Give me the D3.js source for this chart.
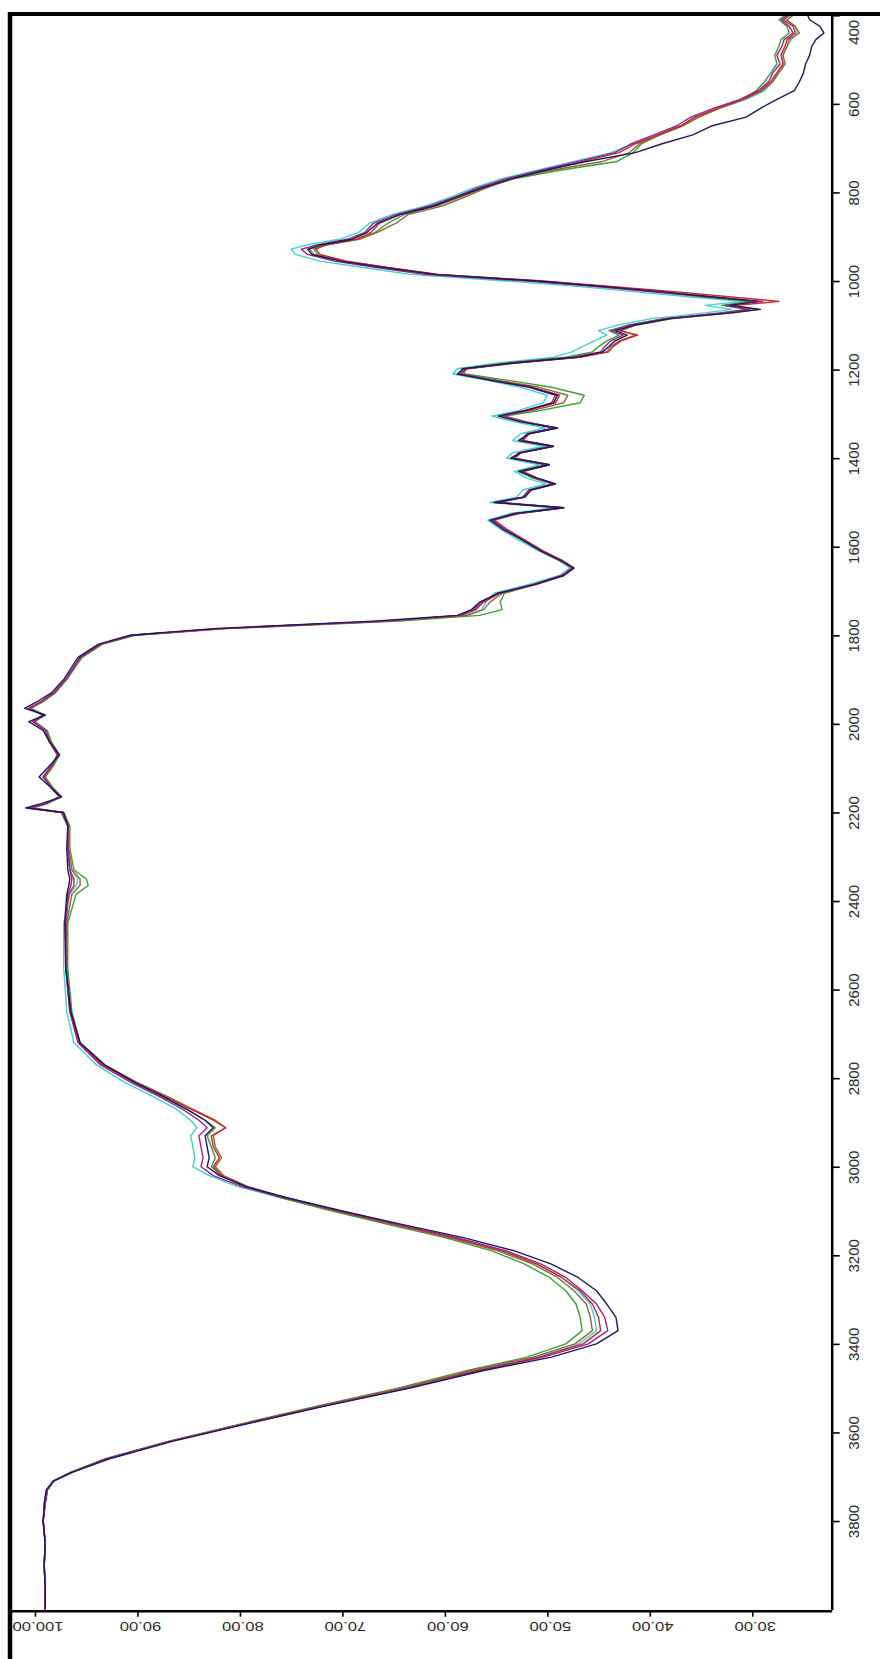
<!DOCTYPE html>
<html>
<head>
<meta charset="utf-8">
<script src="https://cdn.jsdelivr.net/npm/d3@7/dist/d3.min.js"></script>
<style>
  html, body { margin: 0; padding: 0; background: #ffffff; }
  svg { display: block; }
  text { font-family: "Liberation Sans", Arial, sans-serif; fill: #2a2a2a; }
</style>
</head>
<body>
<script>
// Wavenumber grid (cm-1) shared by every spectrum
const wavenumbers = [
  400,410,425,440,455,470,490,510,530,550,
  570,590,610,630,650,670,690,710,730,750,
  770,790,810,830,850,870,890,905,918,928,
  940,955,970,985,1000,1012,1024,1036,1046,1055,
  1064,1072,1085,1100,1112,1122,1135,1148,1160,1172,
  1185,1198,1210,1225,1240,1258,1275,1292,1305,1318,
  1332,1345,1360,1373,1388,1400,1415,1430,1445,1458,
  1472,1488,1500,1512,1525,1540,1560,1585,1610,1630,
  1648,1665,1685,1705,1725,1742,1755,1768,1785,1800,
  1820,1850,1900,1930,1950,1965,1980,1995,2015,2040,
  2070,2095,2120,2145,2165,2180,2190,2200,2230,2280,
  2330,2350,2365,2385,2450,2550,2650,2720,2770,2810,
  2840,2870,2895,2912,2930,2955,2980,3000,3020,3045,
  3070,3100,3130,3160,3190,3220,3250,3280,3310,3340,
  3370,3400,3430,3460,3500,3540,3580,3620,3660,3690,
  3710,3730,3760,3800,3850,3900,3950,4000
];

// Transmittance (%) of each sample at the wavenumbers above
const cyanT = [
  26.2,26.8,25.8,25.6,26.2,26.6,27.0,27.0,27.6,28.0,
  28.8,30.6,33.2,35.4,37.0,39.2,41.6,43.8,47.4,51.0,
  54.6,57.2,59.4,61.8,65.2,67.4,68.4,70.2,73.4,75.0,
  74.6,72.2,67.8,63.4,54.0,47.0,41.6,36.0,31.0,34.6,
  32.0,34.6,39.8,43.2,45.0,44.2,45.4,46.6,47.6,49.4,
  54.8,58.8,59.2,55.8,52.6,50.0,50.4,52.8,55.4,53.2,
  50.2,52.6,53.4,50.4,53.4,54.0,50.8,53.2,52.0,50.2,
  52.4,53.0,55.6,49.4,53.6,55.8,54.6,52.8,50.8,49.0,
  47.8,48.8,51.8,55.2,56.0,56.4,58.2,65.6,81.8,90.4,
  93.6,95.6,97.0,98.2,99.4,100.4,99.2,100.0,99.0,98.6,
  97.8,98.4,99.0,98.4,97.6,98.8,100.4,97.4,96.8,96.8,
  96.4,95.8,96.0,96.6,97.2,97.2,96.9,96.2,94.0,91.2,
  88.6,86.2,84.8,84.2,84.8,84.6,84.4,84.6,83.0,80.2,
  76.0,70.6,65.0,59.2,54.4,51.0,48.6,47.0,45.8,45.4,
  45.2,46.9,51.0,57.0,64.0,72.0,79.6,87.0,93.2,96.6,
  98.3,98.9,99.1,99.2,99.0,99.1,99.0,99.0
];

const greenT = [
  26.8,27.4,26.6,26.4,27.2,27.4,27.8,27.6,28.2,28.8,
  29.6,31.0,33.4,35.6,37.0,39.0,40.8,41.6,43.2,48.8,
  53.4,56.2,58.4,60.8,64.0,65.6,66.8,68.4,71.4,72.8,
  72.4,69.8,65.6,61.2,51.4,45.2,39.6,34.6,30.2,33.0,
  30.6,33.2,38.6,42.2,44.0,43.0,44.2,45.0,45.6,48.2,
  54.0,58.4,58.0,53.6,49.6,46.4,46.8,50.6,54.2,52.0,
  49.2,51.8,52.6,49.8,52.8,53.4,50.2,52.8,51.4,49.6,
  51.8,52.4,55.0,48.8,53.0,55.4,54.2,52.4,50.6,48.8,
  47.6,48.6,51.2,54.2,54.6,54.4,56.6,64.4,81.2,90.2,
  93.4,95.4,96.9,98.0,99.2,100.4,99.0,100.0,98.8,98.4,
  97.6,98.2,99.0,98.2,97.4,98.8,100.2,97.2,96.6,96.6,
  96.2,95.0,94.8,96.0,96.8,96.8,96.4,95.6,93.4,90.4,
  87.8,85.2,83.4,82.4,83.2,82.8,82.4,82.8,81.8,79.6,
  76.0,71.0,65.6,60.0,55.4,52.2,49.8,48.2,47.2,46.8,
  46.6,48.2,52.0,57.8,64.6,72.4,79.8,87.0,93.2,96.5,
  98.2,98.8,99.0,99.2,99.0,99.1,99.0,99.0
];

const brownT = [
  26.0,26.6,25.8,25.4,26.4,26.6,27.0,26.8,27.4,28.0,
  29.0,30.8,33.2,35.2,36.8,39.0,41.0,42.0,44.6,49.6,
  53.6,56.0,58.0,60.2,63.6,64.8,66.6,68.2,71.6,73.2,
  72.8,70.0,65.6,60.8,50.8,44.4,38.8,33.6,29.4,32.0,
  29.4,32.0,37.8,41.4,42.8,41.4,43.0,43.8,44.2,47.0,
  53.2,58.0,58.4,54.6,50.8,48.0,48.4,51.4,54.4,52.2,
  49.0,51.8,52.4,49.4,52.6,53.2,49.8,52.4,51.0,49.2,
  51.6,52.2,54.8,48.4,52.8,55.2,54.0,52.2,50.4,48.6,
  47.4,48.4,51.0,54.4,55.6,56.2,57.8,65.4,81.6,90.4,
  93.5,95.5,97.0,98.1,99.3,100.5,99.1,100.1,98.9,98.5,
  97.7,98.3,99.1,98.3,97.5,98.9,100.4,97.3,96.7,96.7,
  96.4,95.6,95.6,96.4,96.9,96.9,96.5,95.6,93.2,90.0,
  87.2,84.6,82.4,81.4,82.6,82.4,81.8,82.4,81.6,79.2,
  75.6,70.6,65.2,59.6,54.8,51.4,49.0,47.4,46.2,45.8,
  45.6,47.3,51.4,57.4,64.2,72.2,79.6,86.9,93.1,96.5,
  98.2,98.8,99.0,99.2,99.0,99.1,99.0,99.0
];

const redT = [
  26.4,27.0,26.0,25.8,26.6,26.8,27.2,27.0,27.6,28.2,
  29.2,31.0,33.4,35.6,37.0,39.2,41.4,43.0,46.6,50.2,
  53.8,56.4,58.6,61.0,64.4,66.4,67.2,68.6,71.6,72.6,
  72.2,69.6,65.4,60.6,50.4,43.8,37.6,32.0,27.4,31.6,
  30.4,32.6,38.2,41.6,43.0,41.2,42.8,43.6,44.0,46.8,
  53.0,57.8,58.4,55.0,51.4,48.8,49.2,51.8,54.4,52.2,
  49.2,51.8,52.4,49.4,52.6,53.2,49.8,52.4,51.0,49.2,
  51.6,52.2,54.8,48.4,52.8,55.2,54.0,52.2,50.4,48.6,
  47.4,48.4,51.2,54.6,56.2,57.0,58.4,66.0,82.0,90.6,
  93.6,95.6,97.0,98.2,99.4,100.6,99.2,100.2,99.0,98.6,
  97.8,98.4,99.2,98.4,97.6,99.0,100.6,97.4,96.8,96.8,
  96.6,96.2,96.2,96.7,97.0,97.0,96.6,95.7,93.4,90.2,
  87.4,84.8,82.6,81.4,82.8,82.6,82.0,82.6,81.8,79.4,
  75.6,70.4,64.8,59.2,54.4,51.0,48.6,46.8,45.6,45.0,
  44.8,46.5,50.8,56.8,63.8,71.8,79.4,86.8,93.0,96.4,
  98.2,98.8,99.0,99.2,99.0,99.1,99.0,99.0
];

const magentaT = [
  26.6,27.2,26.4,26.0,26.9,27.1,27.6,27.3,28.0,28.4,
  29.4,31.2,33.8,36.0,37.4,39.6,41.8,43.4,47.0,50.6,
  54.2,56.8,59.0,61.4,64.8,67.0,67.8,69.4,72.4,74.0,
  73.4,70.8,66.5,62.0,52.0,45.5,40.0,34.2,29.0,32.6,
  30.2,32.8,38.5,42.0,43.8,42.6,43.8,44.4,44.8,47.5,
  53.5,58.0,58.6,55.2,51.8,49.2,49.6,52.0,54.6,52.4,
  49.4,52.0,52.6,49.6,52.8,53.4,50.0,52.6,51.2,49.4,
  51.8,52.4,55.0,48.6,53.0,55.4,54.2,52.4,50.6,48.8,
  47.6,48.6,51.4,54.8,56.4,57.2,58.5,66.0,82.0,90.5,
  93.6,95.6,97.0,98.2,99.4,100.6,99.2,100.2,99.0,98.6,
  97.8,98.4,99.2,98.4,97.6,99.0,100.6,97.4,96.8,96.8,
  96.6,96.4,96.5,96.8,97.0,97.0,96.6,95.8,93.6,90.6,
  88.0,85.6,84.0,83.2,84.0,83.8,83.6,83.8,82.6,79.8,
  75.6,70.2,64.6,58.8,54.0,50.6,48.2,46.6,45.2,44.4,
  44.1,46.0,50.4,56.6,63.6,71.8,79.4,86.8,93.0,96.4,
  98.2,98.8,99.0,99.2,99.0,99.1,99.0,99.0
];

const navyT = [
  24.6,24.4,23.4,23.0,23.8,24.2,24.4,24.8,25.0,25.4,
  25.9,27.6,29.2,30.6,34.0,35.8,38.8,41.4,46.2,50.2,
  53.6,56.4,58.8,61.0,64.4,66.6,67.6,69.0,72.0,73.4,
  73.0,70.2,65.8,61.0,51.0,44.6,39.0,33.8,29.6,32.2,
  29.2,32.0,38.0,41.6,43.4,42.2,43.4,44.0,44.6,47.2,
  53.4,58.2,58.8,55.4,51.6,49.0,49.4,52.2,54.8,52.6,
  49.0,51.8,52.8,49.4,52.6,53.6,49.8,52.8,51.0,49.2,
  51.6,52.2,55.2,48.4,53.2,55.6,54.4,52.4,50.6,48.8,
  47.4,48.4,51.2,54.8,56.6,57.4,58.8,67.0,82.6,90.8,
  93.8,95.8,97.2,98.4,99.8,101.0,99.0,100.6,99.2,98.6,
  97.6,98.6,99.6,98.4,97.4,99.4,100.9,97.2,96.8,96.9,
  96.8,96.6,96.7,96.9,97.1,97.0,96.5,95.6,93.2,90.2,
  87.6,85.2,83.4,82.6,83.4,83.2,83.0,83.2,82.0,79.4,
  75.4,70.0,64.2,58.2,53.2,49.6,47.0,45.2,44.2,43.3,
  43.1,45.2,49.6,56.2,63.4,71.6,79.2,86.6,92.8,96.4,
  98.2,98.9,99.1,99.2,99.0,99.1,99.0,99.0
];

// Axis tick values
const wavenumberTicks = [400,600,800,1000,1200,1400,1600,1800,2000,2200,2400,2600,2800,3000,3200,3400,3600,3800];
const transmittanceTicks = [100,90,80,70,60,50,40,30];

// Drawing order: last one ends up on top
const spectra = [
  { name: "cyan",    color: "#3fd3d0", values: cyanT },
  { name: "green",   color: "#3e9e3a", values: greenT },
  { name: "brown",   color: "#8c6a34", values: brownT },
  { name: "red",     color: "#c8282e", values: redT },
  { name: "magenta", color: "#a0208e", values: magentaT },
  { name: "navy",    color: "#1d1a5e", values: navyT }
];

const W = 880, H = 1659;
const svg = d3.select("body").append("svg").attr("width", W).attr("height", H);

// Transmittance runs horizontally (100 on the left), wavenumber runs down the page
const x = d3.scaleLinear().domain([102.34, 22.25]).range([11, 831.7]);
const y = d3.scaleLinear().domain([400, 4000]).range([15.3, 1609.6]);

const line = d3.line()
  .x(d => x(d[1]))
  .y(d => y(d[0]));

const plot = svg.append("g");
spectra.forEach(s => {
  const pts = wavenumbers.map((w, i) => [w, s.values[i]]);
  plot.append("path")
    .datum(pts)
    .attr("fill", "none")
    .attr("stroke", s.color)
    .attr("stroke-width", 1.4)
    .attr("stroke-linejoin", "round")
    .attr("d", line);
});

// Right axis: wavenumber
const rightAxis = svg.append("g")
  .attr("transform", "translate(831.7,0)")
  .call(d3.axisRight(y).tickValues(wavenumberTicks).tickSize(8).tickSizeOuter(0).tickFormat(d => d));
rightAxis.select(".domain").attr("stroke", "#000").attr("stroke-width", 2.5);
rightAxis.selectAll(".tick line").attr("stroke", "#000").attr("stroke-width", 1.6);
rightAxis.selectAll(".tick text")
  .attr("x", null).attr("y", null).attr("dy", null)
  .attr("text-anchor", "middle")
  .attr("dominant-baseline", "central")
  .attr("font-size", 15)
  .attr("transform", d => `translate(21.5,${d === 400 ? 16.5 : 0}) rotate(-90)`);

// Bottom axis: transmittance, labels turned upside down
const bottomAxis = svg.append("g")
  .attr("transform", "translate(0,1610.7)")
  .call(d3.axisBottom(x).tickValues(transmittanceTicks).tickSize(6).tickSizeOuter(0).tickFormat(d3.format(".2f")));
bottomAxis.select(".domain").attr("stroke", "#000").attr("stroke-width", 2.5);
bottomAxis.selectAll(".tick line").attr("stroke", "#000").attr("stroke-width", 1.6);
bottomAxis.selectAll(".tick text")
  .attr("x", null).attr("y", null).attr("dy", null)
  .attr("text-anchor", "middle")
  .attr("dominant-baseline", "central")
  .attr("font-size", 13)
  .attr("transform", "translate(2.5,16.5) rotate(180) scale(1.28,1)");

// Outer frame: heavy top and left edges
svg.append("line")
  .attr("x1", 8).attr("x2", W).attr("y1", 14).attr("y2", 14)
  .attr("stroke", "#000").attr("stroke-width", 4);
svg.append("line")
  .attr("x1", 10).attr("x2", 10).attr("y1", 12).attr("y2", H)
  .attr("stroke", "#000").attr("stroke-width", 4.5);
</script>
</body>
</html>
